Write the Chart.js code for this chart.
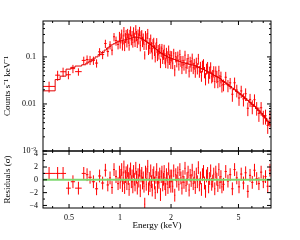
<!DOCTYPE html>
<html>
<head>
<meta charset="utf-8">
<script src="https://cdn.jsdelivr.net/npm/chart.js@4.4.1/dist/chart.umd.min.js"></script>
<style>
  html, body { margin: 0; padding: 0; background: #fff; }
  #wrap { position: relative; width: 300px; height: 240px; }
  canvas { position: absolute; left: 0; top: 0; }
</style>
</head>
<body>
<div id="wrap">
  <canvas id="specChart" width="300" height="240"></canvas>
  <canvas id="resChart" width="300" height="240"></canvas>
</div>
<script>
// energy bin edges (keV)
const binEdges = [
  0.351, 0.414, 0.443, 0.480, 0.512, 0.543, 0.594, 0.628, 0.650, 0.681, 0.712,
  0.742, 0.773, 0.806, 0.833, 0.861, 0.885, 0.909, 0.934, 0.960, 0.987,
  0.997, 1.007, 1.017, 1.028, 1.038, 1.049, 1.059, 1.070, 1.081, 1.092,
  1.103, 1.114, 1.125, 1.137, 1.148, 1.160, 1.172, 1.184, 1.196, 1.208,
  1.220, 1.233, 1.245, 1.258, 1.271, 1.284, 1.297, 1.310, 1.323, 1.337,
  1.350, 1.364, 1.378, 1.392, 1.406, 1.421, 1.435, 1.450, 1.465, 1.480,
  1.495, 1.510, 1.525, 1.541, 1.557, 1.573, 1.589, 1.605, 1.621, 1.638,
  1.654, 1.671, 1.688, 1.706, 1.723, 1.741, 1.758, 1.776, 1.795, 1.813,
  1.831, 1.850, 1.869, 1.888, 1.907, 1.927, 1.946, 1.966, 1.986, 2.003,
  2.031, 2.060, 2.089, 2.118, 2.148, 2.178, 2.209, 2.240, 2.271, 2.303,
  2.335, 2.368, 2.401, 2.435, 2.469, 2.504, 2.539, 2.575, 2.611, 2.648,
  2.685, 2.723, 2.761, 2.800, 2.839, 2.879, 2.919, 2.960, 3.002, 3.044,
  3.087, 3.130, 3.174, 3.219, 3.264, 3.310, 3.356, 3.403, 3.451, 3.499,
  3.548, 3.598, 3.649, 3.700, 3.752, 3.804, 3.858, 3.912, 3.967, 4.02,
  4.143, 4.269, 4.399, 4.534, 4.672, 4.815, 4.961, 5.113, 5.269, 5.429,
  5.595, 5.766, 5.941, 6.123, 6.309, 6.502, 6.700, 6.905, 7.115, 7.332,
  7.556, 7.78
];

// counts s^-1 keV^-1
const counts = [
  .0236, .0409, .0484, .0418, .0564, .0486, .0843, .0881, .0861, .0846,
  .074, .128, .112, .193, .130, .180, .139, .268, .222, .185,
  .277, .200, .254, .312, .184, .242, .351, .177, .259, .298,
  .209, .323, .252, .176, .299, .359, .236, .290, .202, .341,
  .264, .219, .385, .286, .199, .309, .248, .353, .175, .284,
  .303, .215, .250, .185, .110, .283, .183, .252, .317, .146,
  .199, .153, .243, .165, .121, .193, .204, .141, .099, .161,
  .202, .110, .143, .120, .152, .075, .133, .151, .097, .114,
  .145, .095, .076, .124, .106, .077, .141, .091, .108, .076,
  .106, .074, .120, .053, .102, .081, .105, .070, .113, .083,
  .059, .084, .069, .109, .060, .075, .092, .050, .080, .067,
  .094, .059, .072, .050, .077, .058, .092, .050, .062, .040,
  .065, .071, .048, .035, .057, .061, .037, .048, .061, .038,
  .041, .050, .030, .050, .039, .030, .051, .032, .038, .025,
  .0258, .0370, .0250, .0281, .0161, .0282, .0197, .0134, .0189, .0128,
  .0165, .0081, .0125, .0090, .0123, .0083, .0063, .0083, .0054, .0056,
  .0035, .0050
];

// relative 1-sigma error of each bin
const relErr = [
  .26, .24, .22, .2, .2, .18, .2, .22, .22, .2,
  .2, .2, .2, .2, .22, .2, .22, .2, .22, .22,
  .23, .25, .24, .22, .26, .24, .23, .25, .24, .26,
  .24, .22, .25, .23, .26, .24, .25, .23, .22, .25,
  .24, .26, .23, .25, .22, .24, .26, .23, .25, .24,
  .23, .25, .26, .24, .2, .25, .23, .26, .24, .25,
  .26, .24, .23, .25, .27, .24, .25, .26, .23, .25,
  .24, .26, .25, .27, .24, .23, .26, .25, .27, .24,
  .25, .27, .24, .26, .25, .27, .24, .26, .25, .27,
  .25, .26, .24, .27, .25, .26, .24, .27, .25, .26,
  .27, .25, .26, .24, .27, .26, .25, .27, .26, .28,
  .25, .27, .26, .28, .25, .27, .26, .28, .27, .26,
  .28, .26, .27, .29, .26, .28, .27, .29, .26, .28,
  .29, .27, .28, .26, .29, .28, .27, .29, .28, .3,
  .28, .3, .29, .27, .31, .29, .3, .32, .29, .31,
  .3, .32, .31, .33, .3, .32, .34, .32, .33, .35,
  .34, .36
];

// folded model
const model = [
  .019, .033, .039, .055, .060, .064, .068, .074, .079, .090,
  .100, .112, .124, .140, .155, .168, .180, .190, .200, .210,
  .215, .217, .219, .221, .224, .226, .228, .230, .233, .235,
  .237, .239, .242, .244, .247, .249, .251, .254, .256, .258,
  .259, .261, .262, .262, .262, .260, .258, .256, .253, .249,
  .244, .239, .234, .229, .224, .219, .213, .208, .202, .197,
  .191, .186, .180, .175, .170, .166, .161, .157, .152, .148,
  .143, .139, .134, .130, .126, .123, .120, .117, .115, .112,
  .110, .108, .106, .104, .102, .100, .098, .097, .095, .094,
  .093, .091, .089, .088, .086, .084, .083, .081, .080, .078,
  .077, .076, .075, .074, .073, .072, .071, .070, .069, .068,
  .068, .067, .066, .065, .064, .062, .061, .059, .058, .056,
  .055, .054, .053, .051, .050, .049, .047, .046, .045, .044,
  .043, .041, .040, .039, .038, .037, .036, .035, .034, .032,
  .030, .028, .026, .0236, .0218, .0200, .0184, .0170, .0156, .0142,
  .0130, .0119, .0108, .0098, .0089, .0080, .0072, .0064, .0057, .0050,
  .0043, .0036
];

// residuals in sigma
const resid = [
  1.0, 1.0, 1.0, -1.3, -0.3, -1.3, 1.0, 0.8, 0.4, -0.3,
  -1.4, 0.6, -0.5, 1.5, -0.8, 0.3, -1.2, 1.6, 0.5, -0.6,
  1.2, -0.4, 0.7, 1.6, -0.9, 0.3, 2.0, -1.2, 0.5, 1.1,
  -0.6, 1.4, 0.2, -1.5, 0.9, 1.7, -0.3, 0.6, -1.1, 1.3,
  0.1, -0.8, 1.8, 0.4, -1.3, 0.8, -0.2, 1.5, -1.7, 0.6,
  1.0, -0.5, 0.3, -1.0, -3.8, 1.2, -0.7, 0.9, 2.1, -1.4,
  0.2, -0.9, 1.4, -0.3, -1.6, 0.7, 1.1, -0.5, -2.0, 0.4,
  1.6, -1.1, 0.3, -0.4, 0.9, -2.3, 0.5, 1.2, -0.8, 0.1,
  1.3, -0.6, -1.5, 0.8, 0.2, -1.2, 1.7, -0.3, 0.6, -1.0,
  0.6, -1.0, 1.4, -2.4, 0.8, -0.2, 1.1, -0.7, 1.6, 0.3,
  -1.3, 0.5, -0.4, 1.8, -0.9, 0.2, 1.2, -1.6, 0.7, -0.1,
  1.5, -0.6, 0.4, -1.2, 0.9, -0.3, 1.9, -0.8, 0.3, -1.5,
  0.8, 1.3, -0.5, -1.8, 0.6, 1.0, -1.1, 0.2, 1.4, -0.7,
  -0.2, 0.9, -1.4, 1.2, 0.1, -0.9, 1.6, -0.4, 0.5, -1.1,
  -0.7, 1.3, -0.2, 0.8, -1.4, 1.6, 0.3, -1.1, 0.9, -0.5,
  1.1, -1.8, 0.7, -0.4, 1.5, 0.2, -0.6, 1.2, -0.3, 0.5,
  -1.0, 1.5
];

const xTickLabels = [0.5, 1, 2, 5];
const xMinorTicks = [0.4, 0.6, 0.7, 0.8, 0.9, 3, 4, 6, 7];
const yTopTicks = [0.001, 0.01, 0.1];
const yResTicks = [-4, -2, 0, 2, 4];
const yResMinor = [-3, -1, 1, 3];

const FONT = 'Liberation Serif';
const xMin = 0.351, xMax = 7.78;

const yTopMinor = [];
yTopTicks.forEach(d => { for (let k = 2; k <= 9; k++) if (d * k < 0.58) yTopMinor.push(d * k); });

// frame with inward ticks on all four sides
function makeFrame(yMajor, yMinor) {
  return {
    id: 'frame',
    afterDraw(chart) {
      const { ctx, chartArea: a } = chart;
      const xs = chart.scales.x, ys = chart.scales.y;
      ctx.save();
      ctx.strokeStyle = '#000';
      ctx.lineWidth = 1;
      ctx.strokeRect(a.left, a.top, a.right - a.left, a.bottom - a.top);
      ctx.beginPath();
      const xt = (v, len) => {
        const p = xs.getPixelForValue(v);
        ctx.moveTo(p, a.bottom); ctx.lineTo(p, a.bottom - len);
        ctx.moveTo(p, a.top); ctx.lineTo(p, a.top + len);
      };
      const yt = (v, len) => {
        const p = ys.getPixelForValue(v);
        ctx.moveTo(a.left, p); ctx.lineTo(a.left + len, p);
        ctx.moveTo(a.right, p); ctx.lineTo(a.right - len, p);
      };
      xTickLabels.forEach(v => xt(v, 4));
      xMinorTicks.forEach(v => xt(v, 2));
      yMajor.forEach(v => yt(v, 4));
      yMinor.forEach(v => yt(v, 2));
      ctx.stroke();
      ctx.restore();
    }
  };
}

// data crosses: bin width horizontally, error vertically
function makeCrosses(values, barOf) {
  return {
    id: 'crosses',
    beforeDatasetsDraw(chart) {
      const { ctx, chartArea: a } = chart;
      const x = chart.scales.x, y = chart.scales.y;
      ctx.save();
      ctx.beginPath();
      ctx.rect(a.left, a.top, a.right - a.left, a.bottom - a.top);
      ctx.clip();
      ctx.strokeStyle = '#ff0000';
      ctx.lineWidth = 1;
      ctx.beginPath();
      values.forEach((v, i) => {
        const lo = binEdges[i], hi = binEdges[i + 1];
        const py = y.getPixelForValue(v);
        ctx.moveTo(x.getPixelForValue(lo), py);
        ctx.lineTo(x.getPixelForValue(hi), py);
        const px = x.getPixelForValue(Math.sqrt(lo * hi));
        const [b, t] = barOf(i);
        ctx.moveTo(px, y.getPixelForValue(b));
        ctx.lineTo(px, y.getPixelForValue(t));
      });
      ctx.stroke();
      ctx.restore();
    }
  };
}

const modelSteps = model.flatMap((m, i) => [{ x: binEdges[i], y: m }, { x: binEdges[i + 1], y: m }]);

new Chart(document.getElementById('specChart').getContext('2d'), {
  type: 'scatter',
  data: {
    datasets: [{
      data: modelSteps,
      showLine: true,
      borderColor: '#e00000',
      borderWidth: 1,
      pointRadius: 0
    }]
  },
  options: {
    responsive: false,
    animation: false,
    layout: { padding: { left: 0, right: 29, top: 21, bottom: 89 } },
    plugins: { legend: { display: false }, tooltip: { enabled: false } },
    scales: {
      x: { type: 'logarithmic', min: xMin, max: xMax, display: false },
      y: {
        type: 'logarithmic',
        min: 0.001,
        max: 0.58,
        grid: { display: false, drawTicks: false },
        border: { display: false },
        afterBuildTicks: s => { s.ticks = yTopTicks.map(v => ({ value: v })); },
        afterFit: s => { s.width = 43; },
        ticks: {
          padding: 7,
          color: '#000',
          font: { family: FONT, size: 8 },
          callback: v => v === 0.001 ? '10⁻³' : String(v)
        },
        title: {
          display: true,
          text: 'Counts s⁻¹ keV⁻¹',
          color: '#000',
          font: { family: FONT, size: 9 },
          padding: { top: 2, bottom: 0 }
        }
      }
    }
  },
  plugins: [
    makeCrosses(counts, i => [counts[i] * (1 - relErr[i]), counts[i] * (1 + relErr[i])]),
    makeFrame(yTopTicks, yTopMinor)
  ]
});

new Chart(document.getElementById('resChart').getContext('2d'), {
  type: 'scatter',
  data: {
    datasets: [{
      data: [{ x: xMin, y: 0 }, { x: xMax, y: 0 }],
      showLine: true,
      borderColor: '#7ed870',
      borderWidth: 2,
      pointRadius: 0
    }]
  },
  options: {
    responsive: false,
    animation: false,
    layout: { padding: { left: 0, right: 29, top: 151, bottom: 8 } },
    plugins: { legend: { display: false }, tooltip: { enabled: false } },
    scales: {
      x: {
        type: 'logarithmic',
        min: xMin,
        max: xMax,
        grid: { display: false, drawTicks: false },
        border: { display: false },
        afterBuildTicks: s => { s.ticks = xTickLabels.map(v => ({ value: v })); },
        afterFit: s => { s.height = 24; },
        ticks: {
          padding: 5,
          maxRotation: 0,
          color: '#000',
          font: { family: FONT, size: 8 },
          callback: v => String(v)
        },
        title: {
          display: true,
          text: 'Energy (keV)',
          color: '#000',
          font: { family: FONT, size: 9 },
          padding: { top: 0, bottom: 1 }
        }
      },
      y: {
        type: 'linear',
        min: -4.4,
        max: 4.5,
        grid: { display: false, drawTicks: false },
        border: { display: false },
        afterBuildTicks: s => { s.ticks = yResTicks.map(v => ({ value: v })); },
        afterFit: s => { s.width = 43; },
        ticks: {
          padding: 5,
          color: '#000',
          font: { family: FONT, size: 8 },
          callback: v => (v < 0 ? '−' + Math.abs(v) : String(v))
        },
        title: {
          display: true,
          text: 'Residuals (σ)',
          color: '#000',
          font: { family: FONT, size: 9 },
          padding: { top: 2, bottom: 0 }
        }
      }
    }
  },
  plugins: [
    makeCrosses(resid, i => [resid[i] - 1, resid[i] + 1]),
    makeFrame(yResTicks, yResMinor)
  ]
});
</script>
</body>
</html>
